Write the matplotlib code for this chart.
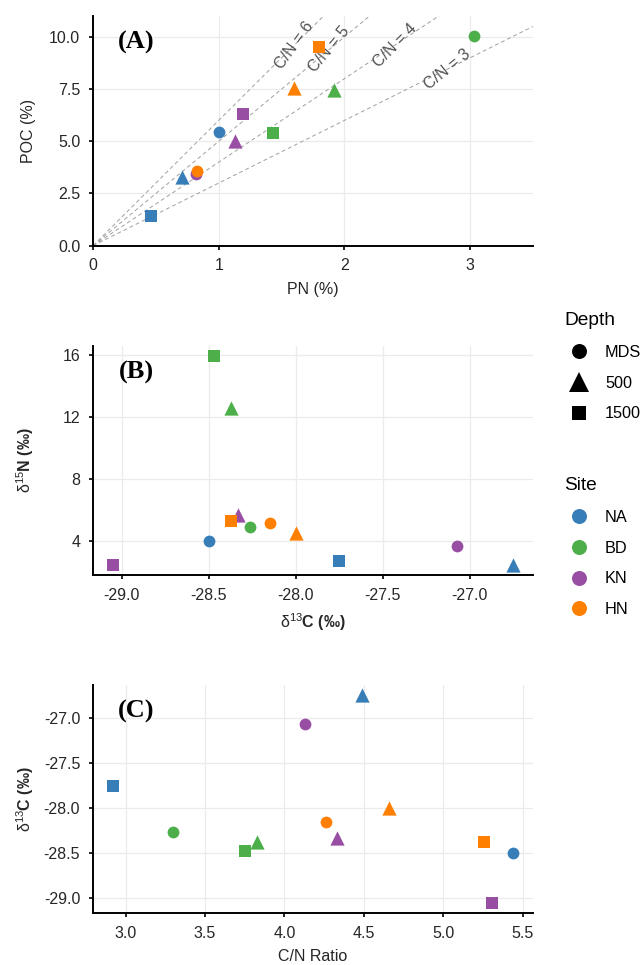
import numpy as np
import matplotlib
matplotlib.use("Agg")
import matplotlib.pyplot as plt
from matplotlib.lines import Line2D
from matplotlib.ticker import FormatStrFormatter

plt.rcParams['font.family'] = ['Liberation Sans', 'DejaVu Sans']
plt.rcParams['mathtext.fontset'] = 'custom'
plt.rcParams['mathtext.rm'] = 'Liberation Sans'
plt.rcParams['mathtext.it'] = 'Liberation Sans:italic'
plt.rcParams['mathtext.bf'] = 'Liberation Sans:bold'
plt.rcParams['mathtext.default'] = 'rm'
plt.rcParams['axes.unicode_minus'] = False

# data, one entry per sample (site x depth)
site = ['NA', 'NA', 'NA', 'BD', 'BD', 'BD', 'KN', 'KN', 'KN', 'HN', 'HN', 'HN']
depth = ['MDS', '500', '1500'] * 4
pn = [1.00, 0.71, 0.46, 3.03, 1.92, 1.43, 0.82, 1.13, 1.19, 0.83, 1.60, 1.80]
poc = [5.46, 3.30, 1.40, 10.05, 7.45, 5.38, 3.45, 5.00, 6.33, 3.56, 7.55, 9.50]
d13c = [-28.50, -26.75, -27.75, -28.26, -28.37, -28.47, -27.07, -28.33, -29.05, -28.15, -28.00, -28.37]
d15n = [4.00, 2.50, 2.75, 4.95, 12.60, 15.90, 3.70, 5.70, 2.50, 5.15, 4.55, 5.30]
cn_ratio = [5.44, 4.49, 2.92, 3.30, 3.83, 3.75, 4.13, 4.33, 5.31, 4.26, 4.66, 5.26]

site_order = ['NA', 'BD', 'KN', 'HN']
depth_order = ['MDS', '500', '1500']
site_colors = {'NA': '#377EB8', 'BD': '#4DAF4A', 'KN': '#984EA3', 'HN': '#FF7F00'}
depth_markers = {'MDS': 'o', '500': '^', '1500': 's'}
marker_size = {'MDS': 72, '500': 105, '1500': 70}

cn_lines = [3, 4, 5, 6]
cn_label_pos = {6: (1.60, 9.60), 5: (1.88, 9.40), 4: (2.40, 9.60), 3: (2.82, 8.46)}
cn_label_angle = {6: 54, 5: 50, 4: 45, 3: 39}

text_col = '#262626'
W, H = 643, 965
fig = plt.figure(figsize=(W / 100, H / 100), dpi=100)


def make_ax(top, bottom):
    return fig.add_axes([93 / W, 1 - bottom / H, 440 / W, (bottom - top) / H])


def style(ax):
    for s in ['top', 'right']:
        ax.spines[s].set_visible(False)
    for s in ['left', 'bottom']:
        ax.spines[s].set_linewidth(1.4)
        ax.spines[s].set_color('black')
    ax.tick_params(length=3.2, width=1.2, color='black', labelsize=11.5,
                   labelcolor=text_col, pad=6)
    ax.grid(True, color='#EBEBEB', lw=0.9)
    ax.set_axisbelow(True)
    ax.xaxis.labelpad = 6
    ax.yaxis.set_label_coords(-0.13, 0.5)


def scatter(ax, xs, ys):
    for i in range(len(site)):
        ax.scatter(xs[i], ys[i], marker=depth_markers[depth[i]], s=marker_size[depth[i]],
                   color=site_colors[site[i]], linewidths=0, zorder=3)


# (A) PN vs POC
axA = make_ax(16, 245.7)
style(axA)
xx = np.array([0, 3.5])
for r in cn_lines:
    axA.plot(xx, r * xx, ls=(0, (4, 3)), color='#A0A0A0', lw=0.7, zorder=2)
    px, py = cn_label_pos[r]
    axA.text(px, py, 'C/N = %d' % r, rotation=cn_label_angle[r], rotation_mode='anchor',
             ha='center', va='center', fontsize=11.5, color='#505050', zorder=2)
scatter(axA, pn, poc)
axA.set_xlim(0, 3.5)
axA.set_ylim(0, 11)
axA.set_xticks([0, 1, 2, 3])
axA.set_yticks([0, 2.5, 5, 7.5, 10])
axA.yaxis.set_major_formatter(FormatStrFormatter('%.1f'))
axA.set_xlabel('PN (%)', fontsize=11.5, color=text_col)
axA.set_ylabel('POC (%)', fontsize=11.5, color=text_col)

# (B) d13C vs d15N
axB = make_ax(346, 575)
style(axB)
scatter(axB, d13c, d15n)
axB.set_xlim(-29.165, -26.635)
axB.set_ylim(1.83, 16.57)
axB.set_xticks([-29.0, -28.5, -28.0, -27.5, -27.0])
axB.xaxis.set_major_formatter(FormatStrFormatter('%.1f'))
axB.set_yticks([4, 8, 12, 16])
axB.set_xlabel(r'$\delta^{13}$C (‰)', fontsize=11.5, color=text_col, fontweight='bold')
axB.set_ylabel(r'$\delta^{15}$N (‰)', fontsize=11.5, color=text_col, fontweight='bold')

# (C) C/N vs d13C
axC = make_ax(685, 913.3)
style(axC)
scatter(axC, cn_ratio, d13c)
axC.set_xlim(2.794, 5.566)
axC.set_ylim(-29.165, -26.635)
axC.set_xticks([3.0, 3.5, 4.0, 4.5, 5.0, 5.5])
axC.xaxis.set_major_formatter(FormatStrFormatter('%.1f'))
axC.set_yticks([-29.0, -28.5, -28.0, -27.5, -27.0])
axC.yaxis.set_major_formatter(FormatStrFormatter('%.1f'))
axC.set_xlabel('C/N Ratio', fontsize=11.5, color=text_col)
axC.set_ylabel(r'$\delta^{13}$C (‰)', fontsize=11.5, color=text_col, fontweight='bold')

for ax, lab in zip([axA, axB, axC], ['(A)', '(B)', '(C)']):
    ax.text(0.099, 0.885, lab, transform=ax.transAxes, ha='center', va='center',
            fontsize=19, fontweight='bold', family='Liberation Serif', color='black')

# legends
leg_kw = dict(loc='upper left', bbox_transform=fig.transFigure, frameon=False,
              fontsize=11.7, title_fontsize=13.8, borderpad=0, borderaxespad=0,
              handlelength=1.85, handletextpad=0.68, labelspacing=0.97, alignment='left')
msz = {'MDS': 10.8, '500': 14, '1500': 10}
depth_handles = [Line2D([], [], ls='none', marker=depth_markers[d], color='black',
                        markersize=msz[d], markeredgewidth=0) for d in depth_order]
leg1 = fig.legend(depth_handles, depth_order, title='Depth',
                  bbox_to_anchor=(564 / W, 1 - 312 / H), **leg_kw)
site_handles = [Line2D([], [], ls='none', marker='o', color=site_colors[s],
                       markersize=10.8, markeredgewidth=0) for s in site_order]
leg2 = fig.legend(site_handles, site_order, title='Site',
                  bbox_to_anchor=(564 / W, 1 - 477 / H), **leg_kw)
for lg in (leg1, leg2):
    for t in lg.get_texts():
        t.set_color('black')

fig.savefig('out.png', dpi=100, facecolor='white')
